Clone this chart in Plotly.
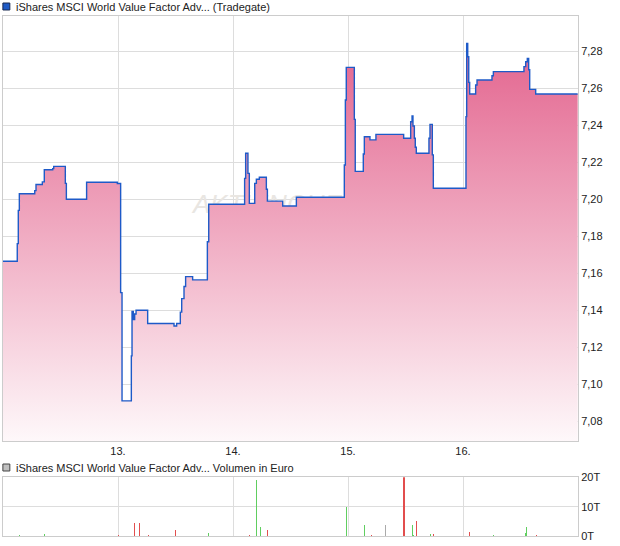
import plotly.graph_objects as go

# ---- price series (day of month, fractional) ----
price_t = [12.000, 12.124, 12.133, 12.142, 12.276, 12.287, 12.342, 12.359, 12.432, 12.441,
           12.542, 12.551, 12.727, 12.994, 13.023, 13.035, 13.116, 13.122, 13.133, 13.145,
           13.157, 13.258, 13.487, 13.510, 13.542, 13.554, 13.574, 13.588, 13.649, 13.777,
           13.789, 14.101, 14.110, 14.130, 14.142, 14.189, 14.203, 14.229, 14.290, 14.299,
           14.432, 14.551, 14.968, 14.977, 14.985, 15.055, 15.063, 15.133, 15.142, 15.191,
           15.243, 15.484, 15.545, 15.557, 15.565, 15.577, 15.585, 15.594, 15.704, 15.713,
           15.733, 15.742, 16.026, 16.032, 16.041, 16.050, 16.058, 16.110, 16.122, 16.252,
           16.264, 16.530, 16.545, 16.559, 16.571, 16.580, 16.632, 16.997]
price_v = [7.1665, 7.176, 7.194, 7.203, 7.2047, 7.208, 7.2094, 7.216, 7.2166, 7.2178,
           7.2086, 7.200, 7.2092, 7.2085, 7.1495, 7.091, 7.1153, 7.1393, 7.135, 7.138,
           7.140, 7.1328, 7.1315, 7.1328, 7.139, 7.1463, 7.1528, 7.1582, 7.1564, 7.177,
           7.1973, 7.2113, 7.2249, 7.214, 7.1978, 7.2086, 7.2108, 7.2119, 7.2054, 7.199,
           7.1964, 7.2011, 7.2185, 7.2537, 7.2713, 7.2432, 7.2151, 7.2245, 7.2338, 7.2321,
           7.2351, 7.233, 7.2419, 7.245, 7.2396, 7.233, 7.2281, 7.2249, 7.233, 7.2405,
           7.224, 7.206, 7.2447, 7.2843, 7.2771, 7.2632, 7.2569, 7.2618, 7.2645, 7.2668,
           7.269, 7.2717, 7.2744, 7.2762, 7.270, 7.2594, 7.2569, 7.2569]

# ---- volume series (thousand EUR) ----
vol_t = [12.144, 12.292, 12.358, 12.437, 12.547, 12.736, 13.001, 13.035, 13.121, 13.145,
         13.186, 13.262, 13.499, 13.513, 13.537, 13.561, 13.589, 13.654, 13.785, 14.108,
         14.146, 14.204, 14.239, 14.300, 14.435, 14.558, 14.988, 15.064, 15.140, 15.201,
         15.246, 15.325, 15.487, 15.559, 15.569, 15.594, 15.714, 15.745, 16.040, 16.054,
         16.127, 16.264, 16.546, 16.556, 16.573, 16.584, 16.639]
vol_v = [0.2, 0.15, 0.7, 0.1, 0.15, 0.15, 0.5, 0.15, 0.15, 4.4,
         4.4, 0.5, 2.0, 0.15, 0.15, 0.15, 0.15, 0.15, 1.0, 0.15,
         0.4, 19.1, 3.1, 2.0, 0.15, 0.15, 9.9, 0.15, 3.9, 0.4,
         0.15, 3.75, 20.5, 3.9, 0.2, 5.1, 0.7, 0.7, 0.15, 1.4,
         0.15, 0.35, 1.0, 3.1, 0.15, 0.15, 0.4]
vol_dir = ['u', 'u', 'u', 'u', 'd', 'u', 'd', 'd', 'u', 'd',
           'd', 'd', 'd', 'u', 'u', 'u', 'u', 'd', 'u', 'u',
           'd', 'u', 'u', 'd', 'd', 'u', 'u', 'd', 'u', 'd',
           'u', 'n', 'd', 'u', 'u', 'd', 'u', 'd', 'd', 'd',
           'u', 'u', 'u', 'u', 'd', 'd', 'd']

x_tick_vals = [13, 14, 15, 16]
x_tick_text = ["13.", "14.", "15.", "16."]
y_tick_vals = [7.08, 7.10, 7.12, 7.14, 7.16, 7.18, 7.20, 7.22, 7.24, 7.26, 7.28]
vol_tick_vals = [0, 10, 20]
vol_tick_text = ["0T", "10T", "20T"]

title_price = "iShares MSCI World Value Factor Adv... (Tradegate)"
title_vol = "iShares MSCI World Value Factor Adv... Volumen in Euro"

dir_colors = {'u': 'rgb(96,206,96)', 'd': 'rgb(226,78,78)', 'n': 'rgb(170,170,170)'}

FONT = "Liberation Sans, Arial, sans-serif"
GRID = "#dddddd"
BORDER = "#cccccc"

fig = go.Figure()

# watermark (drawn first so the fill covers it)
fig.add_trace(go.Scatter(
    x=[13.652], y=[7.1962], mode="text", text=["AKTIENCHECK"],
    textposition="middle right",
    textfont=dict(family=FONT, size=26, color="#e9e6e2", style="italic"),
    hoverinfo="skip", showlegend=False, xaxis="x", yaxis="y"))

fig.add_trace(go.Scatter(
    x=price_t, y=price_v, mode="lines", line=dict(shape="hv", color="rgb(30,90,200)", width=1.4),
    fill="tozeroy",
    fillgradient=dict(type="vertical", start=7.0693, stop=7.285,
                      colorscale=[[0, "rgb(254,248,250)"], [1, "rgb(227,100,142)"]]),
    hoverinfo="skip", showlegend=False, xaxis="x", yaxis="y"))

fig.add_trace(go.Bar(
    x=vol_t, y=vol_v, width=0.009,
    marker=dict(color=[dir_colors[d] for d in vol_dir], line=dict(width=0)),
    hoverinfo="skip", showlegend=False, xaxis="x2", yaxis="y2"))

MAIN_DOM = [0.1827, 1.0]
VOL_DOM = [0.0, 0.1129]

fig.update_layout(
    width=620, height=546,
    margin=dict(l=3, r=42, t=16, b=10),
    paper_bgcolor="white", plot_bgcolor="white",
    separators=",.",
    font=dict(family=FONT, size=11, color="#222222"),
    bargap=0,
    hovermode=False,
    xaxis=dict(domain=[0, 1], range=[12, 17], tickvals=x_tick_vals, ticktext=x_tick_text,
               showgrid=True, gridcolor=GRID, gridwidth=1, zeroline=False,
               showline=True, linecolor=BORDER, mirror=True, ticks="",
               tickfont=dict(size=11, color="#222222"), anchor="y"),
    yaxis=dict(domain=MAIN_DOM, range=[7.0693, 7.2991], side="right", tickvals=y_tick_vals,
               tickformat=".2f", showgrid=True, gridcolor=GRID, zeroline=False,
               showline=True, linecolor=BORDER, mirror=True, ticks="",
               tickfont=dict(size=11, color="#222222"), anchor="x"),
    xaxis2=dict(domain=[0, 1], range=[12, 17], tickvals=x_tick_vals, showticklabels=False,
                showgrid=True, gridcolor=GRID, zeroline=False,
                showline=True, linecolor=BORDER, mirror=True, ticks="", anchor="y2"),
    yaxis2=dict(domain=VOL_DOM, range=[0, 20], side="right", tickvals=vol_tick_vals,
                ticktext=vol_tick_text, showgrid=True, gridcolor=GRID, zeroline=False,
                showline=True, linecolor=BORDER, mirror=True, ticks="",
                tickfont=dict(size=11, color="#222222"), anchor="x2"),
)

# legend-like headers
fig.add_shape(type="rect", xref="paper", yref="paper",
              x0=-0.0002, x1=0.0119, y0=1 + 6 / 520, y1=1 + 13 / 520,
              fillcolor="rgb(31,91,198)", line=dict(color="#1a2a50", width=1))
fig.add_annotation(text=title_price, xref="paper", yref="paper", x=0.0191, y=1 + 9.5 / 520,
                   xanchor="left", yanchor="middle", showarrow=False,
                   font=dict(family=FONT, size=11, color="#222222"))
fig.add_shape(type="rect", xref="paper", yref="paper",
              x0=-0.0002, x1=0.0119, y0=(536 - 471) / 520, y1=(536 - 464) / 520,
              fillcolor="rgb(192,192,192)", line=dict(color="#444444", width=1))
fig.add_annotation(text=title_vol, xref="paper", yref="paper", x=0.0191, y=(536 - 467.5) / 520,
                   xanchor="left", yanchor="middle", showarrow=False,
                   font=dict(family=FONT, size=11, color="#222222"))

fig.write_html("out.html",
               config={"displayModeBar": False, "staticPlot": True},
               post_script="document.body.style.margin='0px';document.body.style.padding='0px';")
